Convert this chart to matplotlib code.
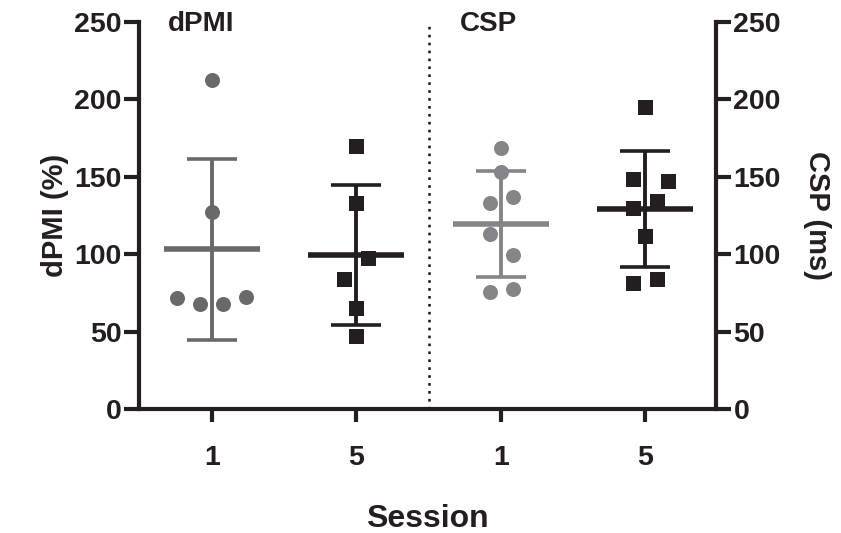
import numpy as np
import matplotlib
matplotlib.use("Agg")
import matplotlib.pyplot as plt

plt.rcParams['font.family'] = ['Liberation Sans', 'DejaVu Sans']
plt.rcParams['font.weight'] = 'bold'

# ---- data ----
group_labels = ["1", "5", "1", "5"]
dpmi_s1 = [212.5, 127.5, 71.5, 67.6, 67.6, 72.1]
dpmi_s5 = [170.0, 132.9, 97.3, 83.8, 65.0, 47.2]
csp_s1 = [168.8, 153.3, 132.9, 136.8, 113.0, 99.5, 75.8, 77.7]
csp_s5 = [195.3, 148.6, 147.3, 134.4, 130.0, 112.0, 81.6, 84.0]

# horizontal scatter offsets (layout)
off_dpmi_s1 = [0, 0, -0.246, -0.083, 0.074, 0.236]
off_dpmi_s5 = [0, 0, 0.08, -0.083, 0, 0]
off_csp_s1 = [0, 0, -0.076, 0.083, -0.076, 0.083, -0.076, 0.083]
off_csp_s5 = [0, -0.081, 0.162, 0.081, -0.081, 0, -0.081, 0.081]

positions = [1, 2, 3, 4]
grey_dark = "#69696b"
grey_light = "#858587"
black = "#231f20"

fig = plt.figure(figsize=(8.41, 5.33), dpi=100)
ax = fig.add_axes([0.1653, 0.2326, 0.6861, 0.7261])
ax2 = ax.twinx()

def draw(axis, xpos, vals, offs, color, marker):
    vals = np.asarray(vals)
    m = vals.mean()
    sd = vals.std(ddof=1)
    axis.errorbar([xpos], [m], yerr=[sd], fmt='none', ecolor=color,
                  elinewidth=2.8, capsize=18, capthick=2.6, zorder=2)
    axis.hlines(m, xpos - 0.333, xpos + 0.333, colors=color, linewidth=4.0, zorder=2)
    axis.plot(np.asarray(offs) + xpos, vals, linestyle='none', marker=marker,
              markersize=10.8, color=color, markeredgewidth=0, zorder=3)

draw(ax, positions[0], dpmi_s1, off_dpmi_s1, grey_dark, 'o')
draw(ax, positions[1], dpmi_s5, off_dpmi_s5, black, 's')
draw(ax2, positions[2], csp_s1, off_csp_s1, grey_light, 'o')
draw(ax2, positions[3], csp_s5, off_csp_s5, black, 's')

for a in (ax, ax2):
    a.set_ylim(0, 250)
    a.set_xlim(0.493, 4.493)
    for s in a.spines.values():
        s.set_linewidth(3.0)
        s.set_color(black)
    a.spines['top'].set_visible(False)

ax.spines['right'].set_visible(False)
ax2.spines['left'].set_visible(False)
ax2.spines['bottom'].set_visible(False)

ax.axvline(2.5, color=black, linestyle=(0, (1, 2)), linewidth=1.9, zorder=1)

ticks = [0, 50, 100, 150, 200, 250]
ax.set_yticks(ticks)
ax.set_yticklabels([str(t) for t in ticks], fontsize=20.5, fontweight='bold', color=black)
ax2.set_yticks(ticks)
ax2.set_yticklabels([str(t) for t in ticks], fontsize=20.5, fontweight='bold', color=black)
ax.tick_params(axis='y', length=11, width=3, pad=1.5, color=black)
ax2.tick_params(axis='y', length=11, width=3, pad=1.5, color=black)

ax.set_xticks(positions)
ax.set_xticklabels(group_labels, fontsize=20.5, fontweight='bold', color=black)
ax.tick_params(axis='x', length=9, width=3, pad=17, color=black)

ax.set_ylabel("dPMI (%)", fontsize=21, fontweight='bold', color=black, labelpad=4)
ax2.set_ylabel("CSP (ms)", fontsize=21, fontweight='bold', color=black, rotation=270, labelpad=36)
ax.set_xlabel("Session", fontsize=23, fontweight='bold', color=black, labelpad=24)

ax.text(0.69, 249, "dPMI", fontsize=20, fontweight='bold', color=black, ha='left', va='center')
ax.text(2.72, 249, "CSP", fontsize=20, fontweight='bold', color=black, ha='left', va='center')

fig.savefig("out.png", dpi=100)
